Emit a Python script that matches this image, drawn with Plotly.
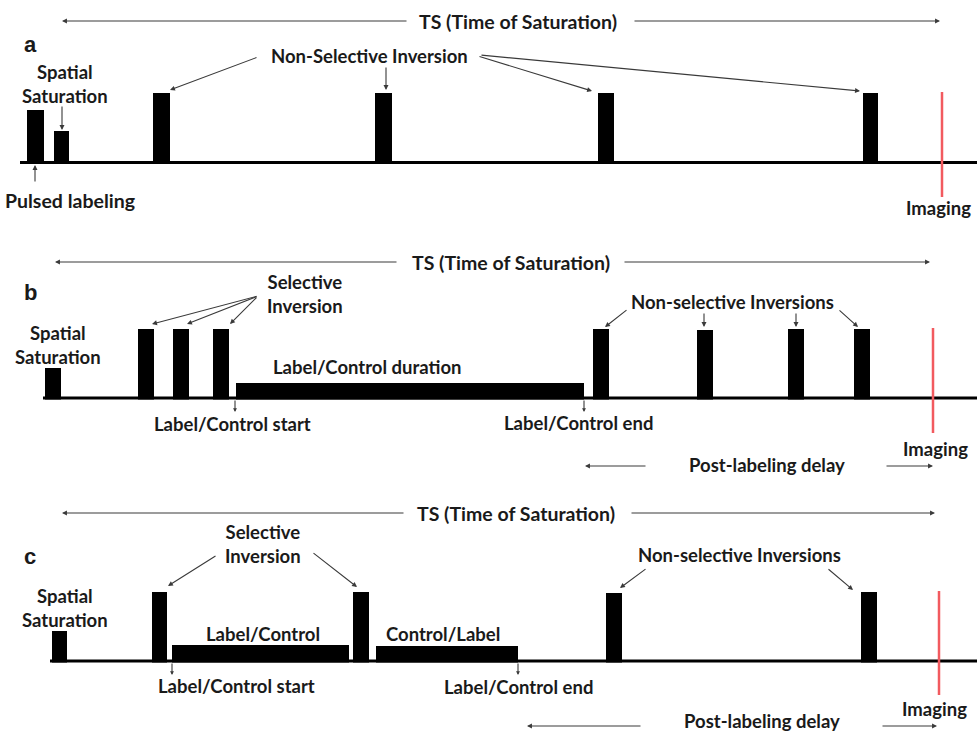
import plotly.graph_objects as go

W, H = 977, 734

# ---------- panel a : pulsed labeling ----------
a_baseline = 162.5
a_line_start = 20
a_pulse_x0 = [27, 54, 153, 375, 598, 863]
a_pulse_x1 = [44, 69, 170, 392, 614, 878]
a_pulse_top = [110, 131, 93, 93, 93, 93]
a_imaging_x = 942
a_imaging_y = [92, 197]
a_ts_y = 21
a_ts_span = [62, 408, 633, 940]

# ---------- panel b : continuous labeling ----------
b_baseline = 398
b_line_start = 43
b_pulse_x0 = [45, 138, 173, 213, 593, 697, 788, 854]
b_pulse_x1 = [61, 154, 189, 229, 609, 713, 804, 870]
b_pulse_top = [368, 329, 329, 329, 329, 330, 329, 329]
b_label_x0 = [236]
b_label_x1 = [584]
b_label_top = [383]
b_imaging_x = 933
b_imaging_y = [328, 433]
b_ts_y = 262
b_ts_span = [55, 398, 623, 930]
b_pld_span = [585, 647, 885, 933]
b_pld_y = 466

# ---------- panel c : label/control switching ----------
c_baseline = 661
c_line_start = 50
c_pulse_x0 = [52, 152, 353, 606, 861]
c_pulse_x1 = [67, 167, 369, 622, 877]
c_pulse_top = [631, 592, 592, 593, 592]
c_label_x0 = [172, 376]
c_label_x1 = [349, 518]
c_label_top = [645, 646]
c_imaging_x = 939
c_imaging_y = [591, 695]
c_ts_y = 513
c_ts_span = [62, 405, 630, 935]
c_pld_span = [527, 642, 881, 937]
c_pld_y = 726

TEXT = "#1a1a1a"
ARROW = "#3a3a3a"
RED = "#f25a5f"
FONT = "Lato"
FS = 18.5      # body labels
FS_BIG = 19.5  # TS span and pulsed labeling

shapes = []
annotations = []


def baseline(y, x0):
    shapes.append(dict(type="line", x0=x0, x1=W, y0=y, y1=y,
                       line=dict(color="black", width=3)))


def blocks(x0s, x1s, tops, base):
    for x0, x1, t in zip(x0s, x1s, tops):
        shapes.append(dict(type="rect", x0=x0, x1=x1, y0=t, y1=base + 1.5,
                           fillcolor="black", line=dict(width=0)))


def imaging(x, ys):
    shapes.append(dict(type="line", x0=x, x1=x, y0=ys[0], y1=ys[1],
                       line=dict(color=RED, width=2.5)))


def label(x, y, text, size=FS, family=FONT, yanchor="middle"):
    annotations.append(dict(x=x, y=y, text=text, showarrow=False,
                            xanchor="center", yanchor=yanchor, align="center",
                            font=dict(family=family, size=size, color=TEXT,
                                      weight="bold")))


def arrow(tail, head, width=1.1, size=0.9):
    annotations.append(dict(x=head[0], y=head[1], ax=tail[0], ay=tail[1],
                            axref="x", ayref="y", xref="x", yref="y",
                            text="", showarrow=True, arrowhead=2,
                            arrowsize=size, arrowwidth=width,
                            arrowcolor=ARROW))


def double_span(span, y):
    arrow((span[1], y), (span[0], y))
    arrow((span[2], y), (span[3], y))


# panel a
baseline(a_baseline, a_line_start)
blocks(a_pulse_x0, a_pulse_x1, a_pulse_top, a_baseline)
imaging(a_imaging_x, a_imaging_y)
double_span(a_ts_span, a_ts_y)
label(518, a_ts_y, "TS (Time of Saturation)", size=FS_BIG)
label(30, 44, "a", size=22, family="Liberation Sans")
label(65, 84, "Spatial<br>Saturation")
arrow((62, 105), (62, 130))
label(70, 200, "Pulsed labeling", size=FS_BIG)
arrow((35, 183), (35, 165))
label(369, 56, "Non-Selective Inversion")
arrow((258, 57), (170, 90))
arrow((386, 66), (386, 90))
arrow((478, 56), (592, 91))
arrow((480, 55), (860, 91))
label(938, 208, "Imaging")

# panel b
baseline(b_baseline, b_line_start)
blocks(b_pulse_x0, b_pulse_x1, b_pulse_top, b_baseline)
blocks(b_label_x0, b_label_x1, b_label_top, b_baseline)
imaging(b_imaging_x, b_imaging_y)
double_span(b_ts_span, b_ts_y)
label(511, b_ts_y, "TS (Time of Saturation)", size=FS_BIG)
label(30, 292, "b", size=22, family="Liberation Sans")
label(58, 345, "Spatial<br>Saturation")
label(305, 294, "Selective<br>Inversion")
arrow((258, 296), (152, 324))
arrow((258, 296), (187, 324))
arrow((258, 296), (230, 324))
label(367, 367, "Label/Control duration")
label(232, 424, "Label/Control start")
arrow((235, 399), (235, 412), size=0.7)
label(578, 423, "Label/Control end")
arrow((584, 399), (584, 412), size=0.7)
label(732, 302, "Non-selective Inversions")
arrow((628, 309), (605, 327))
arrow((704, 312), (704, 327))
arrow((796, 312), (796, 327))
arrow((838, 309), (858, 327))
label(935, 449, "Imaging")
double_span(b_pld_span, b_pld_y)
label(767, 465, "Post-labeling delay")

# panel c
baseline(c_baseline, c_line_start)
blocks(c_pulse_x0, c_pulse_x1, c_pulse_top, c_baseline)
blocks(c_label_x0, c_label_x1, c_label_top, c_baseline)
imaging(c_imaging_x, c_imaging_y)
double_span(c_ts_span, c_ts_y)
label(516, c_ts_y, "TS (Time of Saturation)", size=FS_BIG)
label(30, 556, "c", size=22, family="Liberation Sans")
label(65, 608, "Spatial<br>Saturation")
label(263, 544, "Selective<br>Inversion")
arrow((217, 555), (168, 586))
arrow((312, 552), (357, 587))
label(263, 634, "Label/Control")
label(443, 634, "Control/Label")
label(236, 686, "Label/Control start")
arrow((172, 662), (172, 675), size=0.7)
label(518, 687, "Label/Control end")
arrow((518, 662), (518, 675), size=0.7)
label(739, 555, "Non-selective Inversions")
arrow((647, 568), (620, 588))
arrow((827, 568), (853, 590))
label(934, 709, "Imaging")
double_span(c_pld_span, c_pld_y)
label(762, 734, "Post-labeling delay", yanchor="bottom")

fig = go.Figure()
fig.add_trace(go.Scatter(x=[0, W], y=[0, H], mode="markers",
                         marker=dict(opacity=0), hoverinfo="skip",
                         showlegend=False))
fig.update_layout(
    width=W, height=H,
    margin=dict(l=0, r=0, t=0, b=0),
    paper_bgcolor="white", plot_bgcolor="white",
    xaxis=dict(range=[0, W], visible=False, fixedrange=True),
    yaxis=dict(range=[H, 0], visible=False, fixedrange=True),
    shapes=shapes, annotations=annotations, showlegend=False,
)
fig.write_html("out.html")
